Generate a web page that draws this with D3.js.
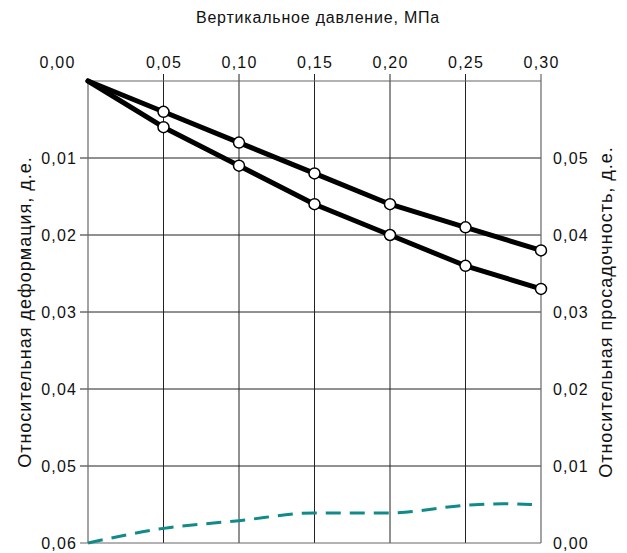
<!DOCTYPE html>
<html>
<head>
<meta charset="utf-8">
<script src="https://cdn.jsdelivr.net/npm/d3@7"></script>
<style>
  html, body { margin: 0; padding: 0; background: #fff; }
  svg { display: block; font-family: "Liberation Sans", Arial, sans-serif; }
</style>
</head>
<body>
<svg id="chart" width="627" height="553"></svg>
<script>
// Vertical pressure, MPa
const pressure = [0, 0.05, 0.10, 0.15, 0.20, 0.25, 0.30];
// Relative deformation, two test series (left axis, downward)
const deformationA = [0, 0.004, 0.008, 0.012, 0.016, 0.019, 0.022];
const deformationB = [0, 0.006, 0.011, 0.016, 0.020, 0.024, 0.027];
// Relative subsidence (right axis, upward)
const subsidenceP = [0, 0.05, 0.10, 0.15, 0.20, 0.25, 0.275, 0.294];
const subsidence  = [0, 0.0019, 0.0029, 0.0039, 0.0039, 0.0049, 0.0051, 0.0050];

const xTicks = [0.05, 0.10, 0.15, 0.20, 0.25, 0.30];
const leftTicks = [0.01, 0.02, 0.03, 0.04, 0.05, 0.06];
const rightTicks = [0, 0.01, 0.02, 0.03, 0.04, 0.05];

const fmt = v => d3.format(".2f")(v).replace(".", ",");

const svg = d3.select("#chart");
const L = 88, R = 541, T = 81, B = 543;

const x = d3.scaleLinear().domain([0, 0.30]).range([L, R]);
const yL = d3.scaleLinear().domain([0, 0.06]).range([T, B]);
const yR = d3.scaleLinear().domain([0, 0.06]).range([B, T]);

// Grid
const grid = svg.append("g");
grid.selectAll("line.v").data(xTicks.slice(0, -1)).join("line")
  .attr("x1", d => x(d)).attr("x2", d => x(d))
  .attr("y1", T - 7).attr("y2", B)
  .attr("stroke", "#222").attr("stroke-width", 1);
grid.selectAll("line.h").data(leftTicks.slice(0, -1)).join("line")
  .attr("x1", L - 8).attr("x2", R)
  .attr("y1", d => yL(d)).attr("y2", d => yL(d))
  .attr("stroke", "#222").attr("stroke-width", 1);

// Frame
const frame = svg.append("g").attr("stroke", "#666").attr("stroke-width", 1.2);
frame.append("line").attr("x1", L).attr("x2", R).attr("y1", T).attr("y2", T);
frame.append("line").attr("x1", L - 8).attr("x2", R).attr("y1", B).attr("y2", B);
frame.append("line").attr("x1", L).attr("x2", L).attr("y1", T).attr("y2", B);
frame.append("line").attr("x1", R).attr("x2", R).attr("y1", T - 7).attr("y2", B);

// Tick labels
const ls = 1.2;
const lab = svg.append("g").attr("font-size", 16).attr("fill", "#111")
  .attr("letter-spacing", ls);
lab.append("text").attr("x", 57 + ls / 2).attr("y", 68).attr("text-anchor", "middle").text(fmt(0));
lab.selectAll("text.xt").data(xTicks).join("text")
  .attr("x", d => x(d) + ls / 2).attr("y", 68).attr("text-anchor", "middle").text(fmt);
lab.selectAll("text.yl").data(leftTicks).join("text")
  .attr("x", 76 + ls).attr("y", d => yL(d)).attr("dy", "0.36em")
  .attr("text-anchor", "end").text(fmt);
lab.selectAll("text.yr").data(rightTicks).join("text")
  .attr("x", 553).attr("y", d => yR(d)).attr("dy", "0.36em")
  .attr("text-anchor", "start").text(fmt);

// Axis titles
svg.append("text").attr("x", 318).attr("y", 23).attr("text-anchor", "middle")
  .attr("font-size", 16).attr("letter-spacing", 0.8).attr("fill", "#111")
  .text("Вертикальное давление, МПа");
svg.append("text").attr("transform", "translate(31,312) rotate(-90)")
  .attr("text-anchor", "middle").attr("font-size", 18).attr("letter-spacing", 1)
  .attr("fill", "#111").text("Относительная деформация, д.е.");
svg.append("text").attr("transform", "translate(612,312) rotate(-90)")
  .attr("text-anchor", "middle").attr("font-size", 18).attr("letter-spacing", 1)
  .attr("fill", "#111").text("Относительная просадочность, д.е.");

// Subsidence curve
const sub = subsidenceP.map((p, i) => [p, subsidence[i]]);
svg.append("path").datum(sub)
  .attr("d", d3.line().x(d => x(d[0])).y(d => yR(d[1])).curve(d3.curveMonotoneX))
  .attr("fill", "none").attr("stroke", "#118a8a").attr("stroke-width", 3)
  .attr("stroke-dasharray", "15,9");

// Deformation curves
const lineGen = d3.line().x(d => x(d[0])).y(d => yL(d[1]));
[deformationB, deformationA].forEach(series => {
  const pts = pressure.map((p, i) => [p, series[i]]);
  svg.append("path").datum(pts).attr("d", lineGen)
    .attr("fill", "none").attr("stroke", "#000").attr("stroke-width", 5)
    .attr("stroke-linejoin", "round").attr("stroke-linecap", "round");
  svg.append("g").selectAll("circle").data(pts.slice(1)).join("circle")
    .attr("cx", d => x(d[0])).attr("cy", d => yL(d[1])).attr("r", 5.5)
    .attr("fill", "#fff").attr("stroke", "#000").attr("stroke-width", 1.5);
});
</script>
</body>
</html>
